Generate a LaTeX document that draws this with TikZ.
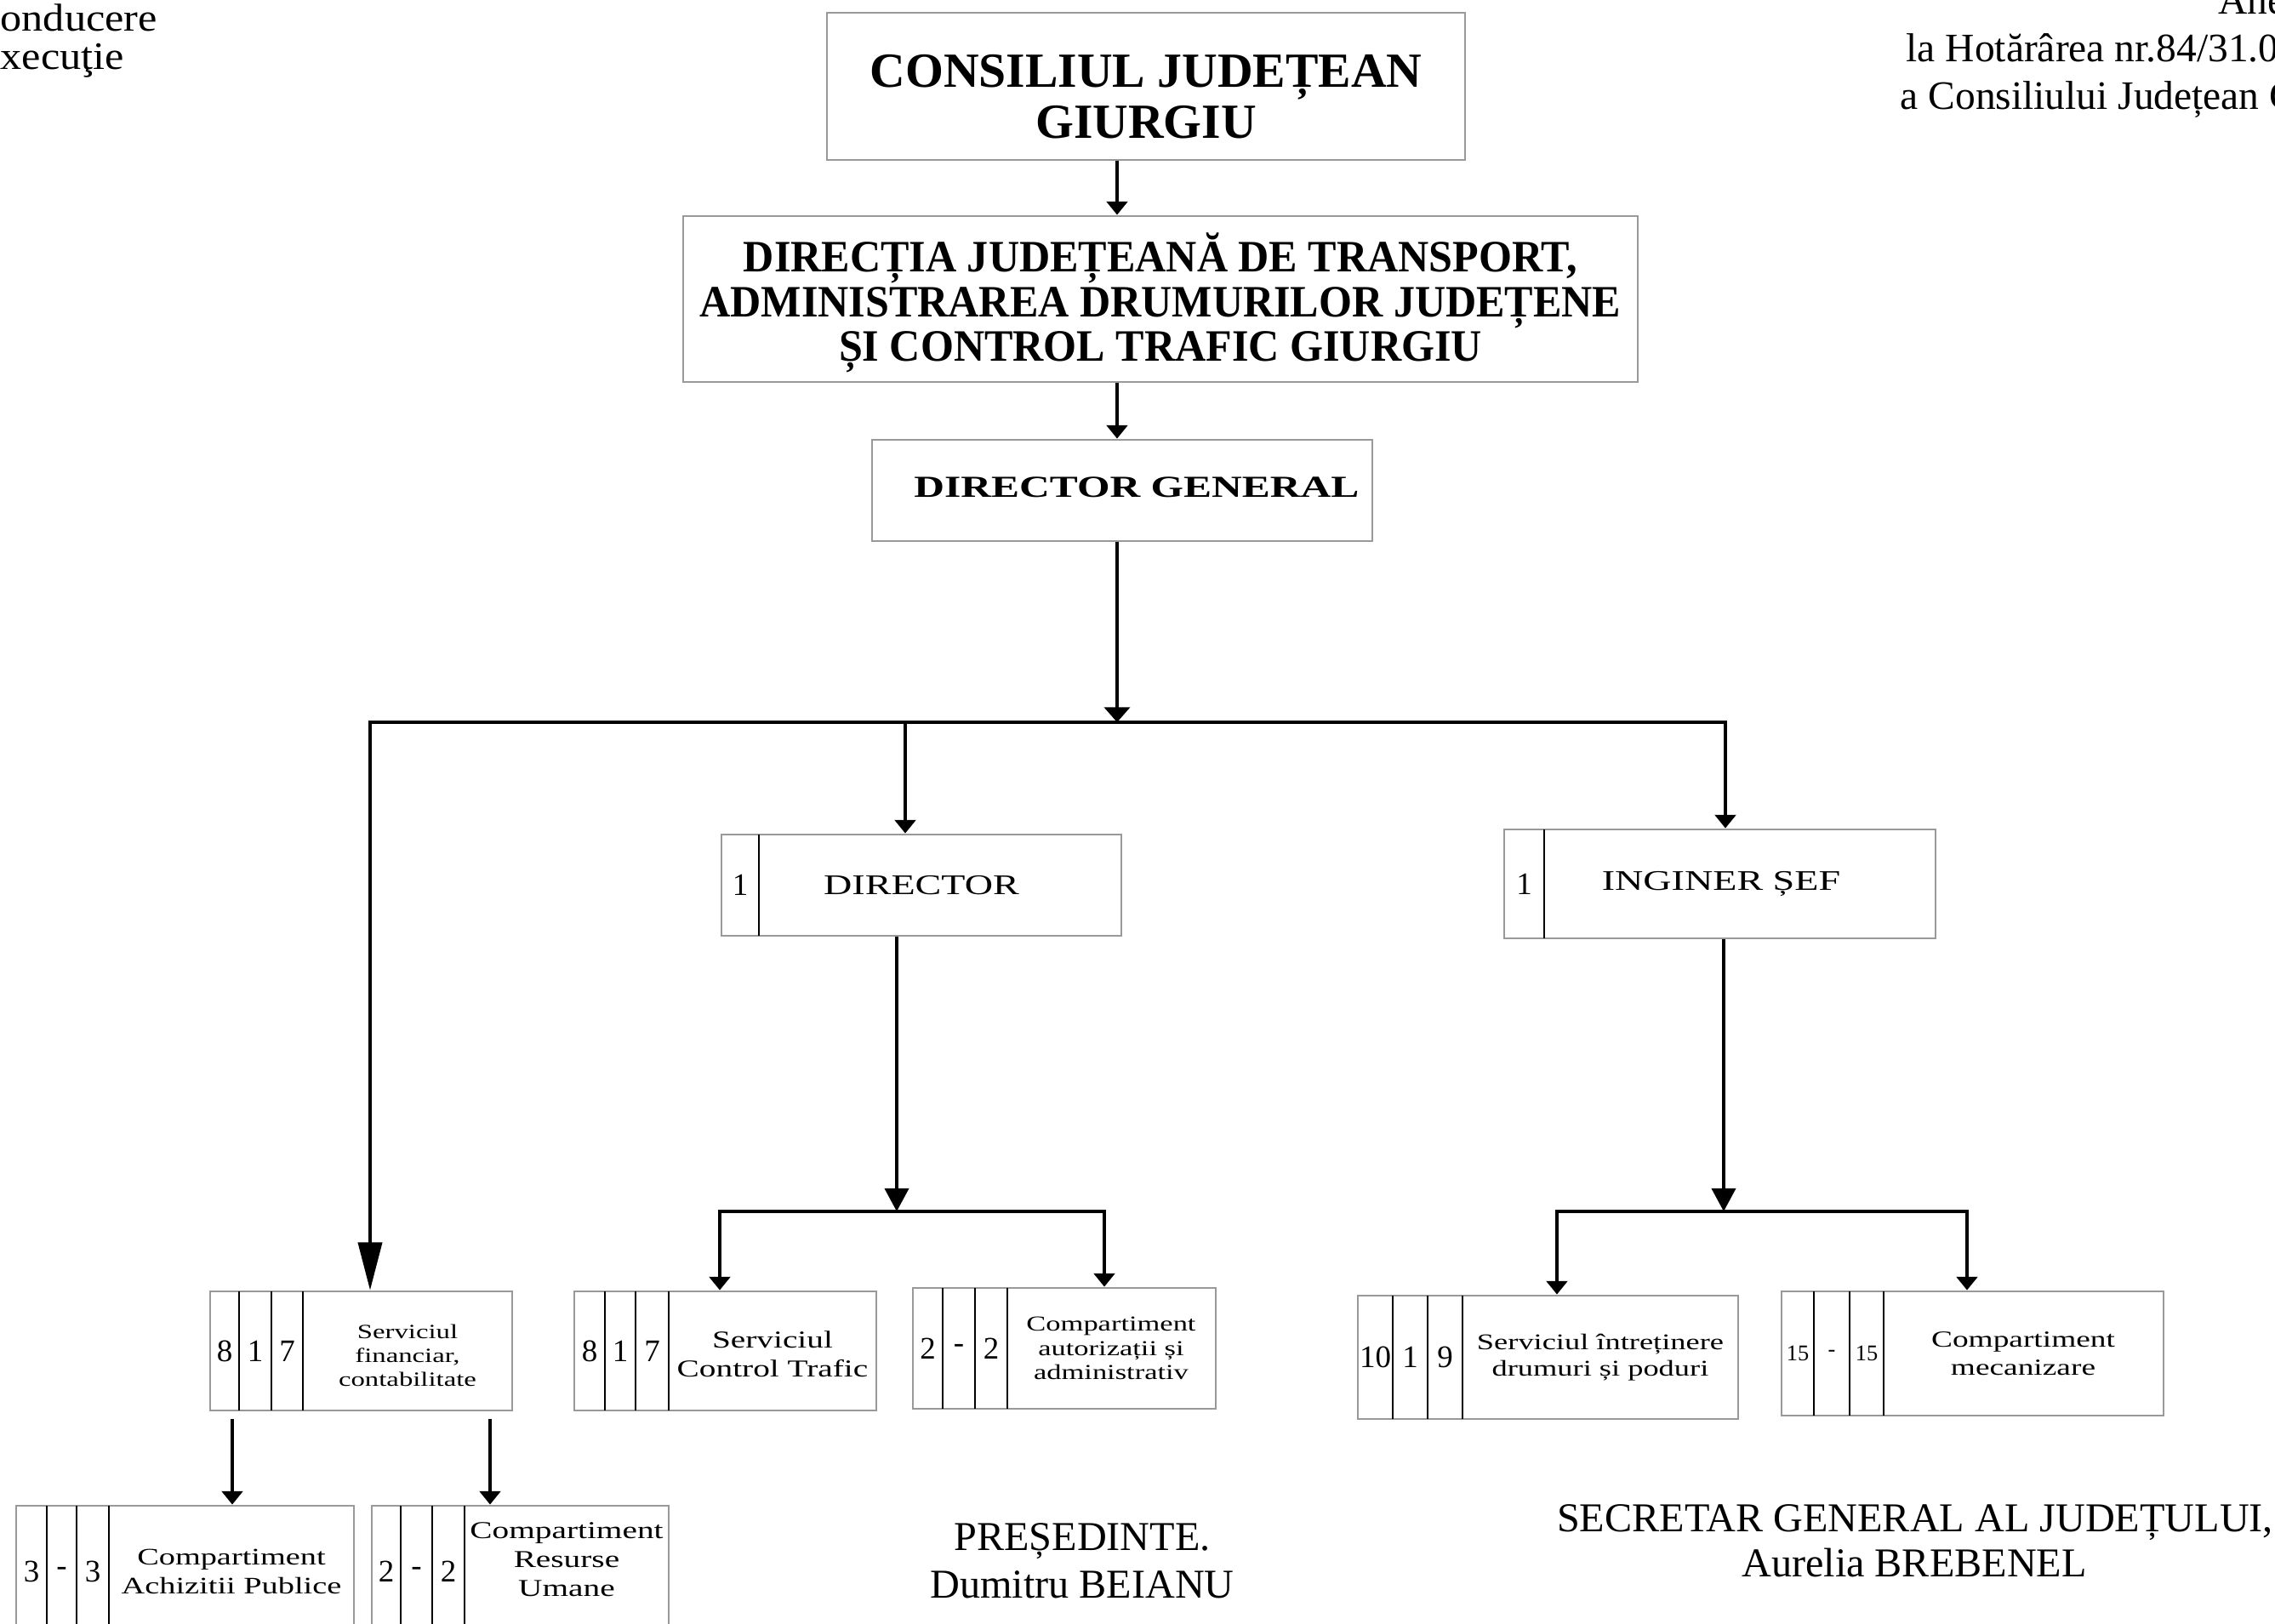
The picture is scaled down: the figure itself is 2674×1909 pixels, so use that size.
\documentclass[tikz,border=0pt]{standalone}
\usepackage{fontspec}
\setmainfont{Liberation Serif}
\newfontfamily\widefont[FakeStretch=1.38]{Liberation Serif}
\newfontfamily\narrowfont[FakeStretch=0.95]{Liberation Serif}
\newfontfamily\legendfont[FakeStretch=1.1]{Liberation Serif}
\usetikzlibrary{arrows.meta,fit}

% box split into number cells and a text cell
\newcommand\unitbox[9]{%
  \node[box, fit={(#2,#3) (#4,#5)}] (#1) {};
  \foreach \ca/\cb/\cn [count=\ci] in {#6} {
    \draw[cellsep] (\cb,#3) -- (\cb,#5);
    \node[num] (#1-n\ci) at ({(\ca+\cb)/2},{(#3+#5)/2}) {\cn};
  }
  \node[unit, #8] (#1-t) at (#7,{(#3+#5)/2}) {#9};
}

\tikzset{ %styles of the chart
  box/.style={draw=black!40, line width=0.8pt, inner sep=0pt},
  cellsep/.style={line width=0.6pt},
  link/.style={line width=1pt},
  arr/.style={link, -{Triangle[length=4.5pt,width=7pt]}},
  midarr/.style={link, -{Triangle[length=5pt,width=8.5pt]}},
  bigarr/.style={link, -{Triangle[length=7.7pt,width=8pt]}},
  longarr/.style={link, -{Triangle[length=16pt,width=8pt]}},
  fs/.style 2 args={font=\widefont\fontsize{#1}{#2}\selectfont},
  num/.style={inner sep=0pt, font=\fontsize{10.5}{12}\selectfont},
  unit/.style={inner sep=0pt, align=center},
  head/.style={inner sep=0pt, align=center, font=\bfseries\fontsize{16.4}{17}\selectfont},
  head2/.style={inner sep=0pt, align=center, font=\narrowfont\bfseries\fontsize{15}{15}\selectfont},
  head3/.style={inner sep=0pt, font=\widefont\bfseries\fontsize{10.2}{12}\selectfont},
  note/.style={inner sep=0pt, font=\fontsize{13.5}{16}\selectfont},
  sign/.style={inner sep=0pt, font=\fontsize{13.7}{16}\selectfont}
}

\begin{document}
\begin{tikzpicture}[x=0.01cm, y=-0.01cm]
\useasboundingbox (0,0) rectangle (2674,1909);
\clip (0,0) rectangle (2674,1909);

% corner texts
\node[inner sep=0pt, anchor=north west, align=left, font=\legendfont\fontsize{13}{12.8}\selectfont] (lg) at (0,4) {onducere\\xecuţie};
\node[note, anchor=base west] (ax0) at (2607,16) {Ane};
\node[note, anchor=base west] (ax1) at (2240,72) {la Hotărârea nr.84/31.0};
\node[note, anchor=base west] (ax2) at (2233,128) {a Consiliului Județean G};

% upper chain
\node[box, fit={(972,15) (1722,188)}] (cj) {};
\node[head] (cj-t) at (1347,114) {CONSILIUL JUDEȚEAN\\GIURGIU};
\node[box, fit={(803,254) (1925,449)}] (dj) {};
\node[head2] (dj-t) at (1364,356) {DIRECȚIA JUDEȚEANĂ DE TRANSPORT,\\ADMINISTRAREA DRUMURILOR JUDEȚENE\\ȘI CONTROL TRAFIC GIURGIU};
\node[box, fit={(1025,517) (1613,636)}] (dg) {};
\node[head3] (dg-t) at (1336,573) {DIRECTOR GENERAL};

\unitbox{dir}{848}{981}{1318}{1100}{848/892/1}{1083}{fs={9.5}{11}}{DIRECTOR}
\unitbox{ing}{1768}{975}{2275}{1103}{1768/1815/1}{2023}{fs={9.5}{11}}{INGINER ȘEF}

\unitbox{sf}{247}{1518}{602}{1658}{247/281/8,281/319/1,319/356/7}{479}{fs={6.75}{8},yshift=-0.05cm}{Serviciul\\financiar,\\contabilitate}
\unitbox{sct}{675}{1518}{1030}{1658}{675/711/8,711/747/1,747/786/7}{908}{fs={8.1}{9.7},yshift=-0.04cm}{Serviciul\\Control Trafic}
\unitbox{caa}{1073}{1514}{1429}{1656}{1073/1108/2,1108/1146/-,1146/1184/2}{1306}{fs={7.1}{8.2}}{Compartiment\\autorizații și\\administrativ}
\unitbox{sid}{1596}{1523}{2043}{1668}{1596/1637/10,1637/1678/1,1678/1719/9}{1881}{fs={7.5}{8.7}}{Serviciul întreținere\\drumuri și poduri}
\begin{scope}[num/.append style={font=\fontsize{7.5}{9}\selectfont}]
\unitbox{cm}{2094}{1518}{2543}{1664}{2094/2132/15,2132/2174/-,2174/2214/15}{2378}{fs={7.7}{9.2}}{Compartiment\\mecanizare}
\end{scope}
\unitbox{ach}{19}{1770}{416}{1924}{19/55/3,55/90/-,90/128/3}{272}{fs={7.9}{9.7}}{Compartiment\\Achizitii Publice}
\unitbox{ru}{437}{1770}{786}{1924}{437/471/2,471/508/-,508/546/2}{666}{fs={8.1}{9.7},yshift=0.14cm}{Compartiment\\Resurse\\Umane}

% junction points
\coordinate (j0) at (1313,849);
\coordinate (jl) at (435,849);
\coordinate (jm) at (1064,849);
\coordinate (jr) at (2028,849);
\coordinate (k0) at (1054,1424);
\coordinate (kl) at (846,1424);
\coordinate (kr) at (1298,1424);
\coordinate (m0) at (2026,1424);
\coordinate (ml) at (1830,1424);
\coordinate (mr) at (2312,1424);
\coordinate (fl) at (273,1668);
\coordinate (fr) at (576,1668);

% connectors
\draw[arr] (cj.south -| j0) -- (dj.north -| j0);
\draw[arr] (dj.south -| j0) -- (dg.north -| j0);
\draw[midarr] (dg.south -| j0) -- (j0);
\draw[longarr] (jr) -- (jl) -- (sf.north -| jl);
\draw[arr] (jm) -- (dir.north -| jm);
\draw[arr] (jl) -- (jr) -- (ing.north -| jr);

\draw[bigarr] (dir.south -| k0) -- (k0);
\draw[arr] (kr) -- (kl) -- (sct.north -| kl);
\draw[arr] (kl) -- (kr) -- (caa.north -| kr);

\draw[bigarr] (ing.south -| m0) -- (m0);
\draw[arr] (mr) -- (ml) -- (sid.north -| ml);
\draw[arr] (ml) -- (mr) -- (cm.north -| mr);

\draw[arr] (fl) -- (ach.north -| fl);
\draw[arr] (fr) -- (ru.north -| fr);

% signatures
\node[sign, anchor=base] (pr1) at (1272,1822) {PREȘEDINTE.};
\node[sign, anchor=base] (pr2) at (1272,1878) {Dumitru BEIANU};
\node[sign, anchor=base] (sg1) at (2251,1800) {SECRETAR GENERAL AL JUDEȚULUI,};
\node[sign, anchor=base] (sg2) at (2250,1853) {Aurelia BREBENEL};
\end{tikzpicture}
\end{document}
